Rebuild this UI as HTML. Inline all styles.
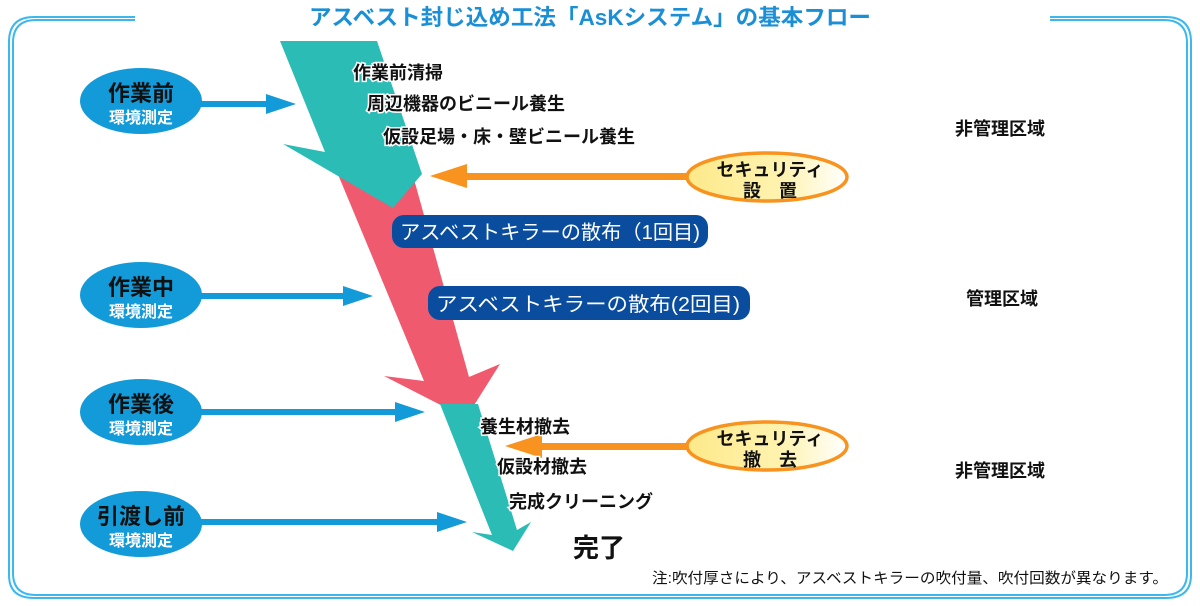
<!DOCTYPE html>
<html><head><meta charset="utf-8"><style>
html,body{margin:0;padding:0;background:#fff;}
svg{display:block;}
text{font-family:"Liberation Sans","Noto Sans CJK JP",sans-serif;}
</style></head><body>
<svg width="1200" height="606" viewBox="0 0 1200 606" xmlns="http://www.w3.org/2000/svg">
<defs>
<linearGradient id="yg" x1="0" x2="1" y1="0" y2="0">
<stop offset="0" stop-color="#fde98a"/><stop offset="0.6" stop-color="#fff3b0"/><stop offset="1" stop-color="#ffffff"/>
</linearGradient>
</defs>
<g fill="none" stroke="#3bb8ee" stroke-width="2">
<path d="M135,17 L34,17 Q9,17 9,42 L9,575 Q9,598 34,598 L1166,598 Q1191,598 1191,575 L1191,42 Q1191,17 1166,17 L1050,17"/>
<path d="M135,20 L36,20 Q13,20 13,43 L13,573 Q13,595 36,595 L1164,595 Q1187,595 1187,573 L1187,43 Q1187,20 1164,20 L1050,20"/>
</g>
<text x="590" y="25" font-size="22" font-weight="bold" fill="#1a8fd6" text-anchor="middle" textLength="562" lengthAdjust="spacingAndGlyphs">アスベスト封じ込め工法「AsKシステム」の基本フロー</text>

<polygon points="337,172 412,172 469,377 500,364 466,418 384,376 424,381" fill="#ef5a6e"/>
<polygon points="280,41 377,41 422,174 393,208 283,144 325,152" fill="#2bbcb5"/>
<polygon points="440,404 478,404 517,530 531,522 513,551 472,532 492,535" fill="#2bbcb5"/>

<g fill="#139ad8">
<rect x="200" y="101" width="70" height="6"/><polygon points="266,94 296,104 266,114"/>
<rect x="200" y="293" width="148" height="6"/><polygon points="343,286 373,296 343,306"/>
<rect x="200" y="409" width="200" height="6"/><polygon points="395,402 425,412 395,422"/>
<rect x="200" y="519" width="242" height="6"/><polygon points="437,512 467,522 437,532"/>
</g>
<g>
<ellipse cx="141" cy="101" rx="61" ry="33" fill="#139ad8"/>
<ellipse cx="141" cy="295" rx="61" ry="33" fill="#139ad8"/>
<ellipse cx="141" cy="412" rx="61" ry="33" fill="#139ad8"/>
<ellipse cx="141" cy="524" rx="61" ry="33" fill="#139ad8"/>
</g>
<g font-weight="bold" text-anchor="middle">
<text x="141" y="101" font-size="22" fill="#111">作業前</text>
<text x="141" y="123" font-size="16" fill="#fff">環境測定</text>
<text x="141" y="295" font-size="22" fill="#111">作業中</text>
<text x="141" y="317" font-size="16" fill="#fff">環境測定</text>
<text x="141" y="412" font-size="22" fill="#111">作業後</text>
<text x="141" y="434" font-size="16" fill="#fff">環境測定</text>
<text x="141" y="524" font-size="22" fill="#111">引渡し前</text>
<text x="141" y="546" font-size="16" fill="#fff">環境測定</text>
</g>

<g fill="#f7931e">
<rect x="455" y="173" width="240" height="7"/><polygon points="430,176 467,164 467,188"/>
<rect x="530" y="443" width="165" height="7"/><polygon points="505,446 542,434 542,458"/>
</g>
<ellipse cx="767" cy="177" rx="80" ry="24" fill="url(#yg)" stroke="#f7931e" stroke-width="3.5"/>
<ellipse cx="767" cy="446" rx="80" ry="24" fill="url(#yg)" stroke="#f7931e" stroke-width="3.5"/>
<g font-size="18" font-weight="bold" fill="#111" text-anchor="middle">
<text x="770" y="176">セキュリティ</text>
<text x="770" y="197">設　置</text>
<text x="770" y="445">セキュリティ</text>
<text x="770" y="466">撤　去</text>
</g>

<rect x="392" y="215" width="316" height="33" rx="12" fill="#0a4d9e"/>
<rect x="428" y="286" width="322" height="34" rx="12" fill="#0a4d9e"/>
<g font-size="20" fill="#fff">
<text x="400" y="239" textLength="300" lengthAdjust="spacingAndGlyphs">アスベストキラーの散布（1回目)</text>
<text x="436" y="311" textLength="304" lengthAdjust="spacingAndGlyphs">アスベストキラーの散布(2回目)</text>
</g>

<g font-size="18" font-weight="bold" fill="#111" stroke="#fff" stroke-width="3" paint-order="stroke">
<text x="353" y="79">作業前清掃</text>
<text x="367" y="110">周辺機器のビニール養生</text>
<text x="383" y="143">仮設足場・床・壁ビニール養生</text>
<text x="480" y="433">養生材撤去</text>
<text x="497" y="473">仮設材撤去</text>
<text x="509" y="508">完成クリーニング</text>
</g>
<text x="573" y="557" font-size="26" font-weight="bold" fill="#111">完了</text>
<text x="652" y="583" font-size="15" fill="#111" textLength="516" lengthAdjust="spacingAndGlyphs">注:吹付厚さにより、アスベストキラーの吹付量、吹付回数が異なります。</text>

<g font-size="18" font-weight="bold" fill="#111">
<text x="955" y="135">非管理区域</text>
<text x="966" y="305">管理区域</text>
<text x="955" y="477">非管理区域</text>
</g>
</svg>
</body></html>
